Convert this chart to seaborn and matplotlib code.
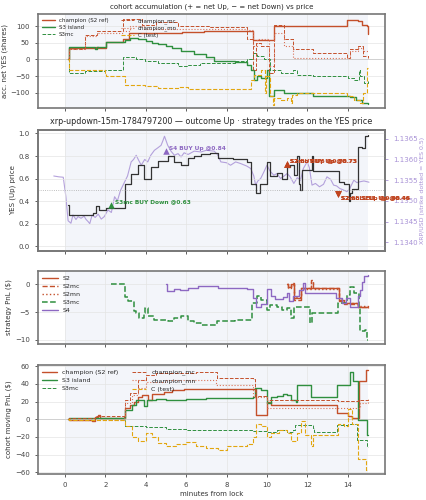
import matplotlib
matplotlib.use("Agg")
import matplotlib.pyplot as plt
import seaborn as sns

# ---- data ----
# panel 1: accumulated net YES shares, step series (t, value)
acc_champion = [(0.15, 0), (0.2, 35), (1.3, 33), (1.55, 38), (1.65, 34), (2.05, 53), (2.9, 60),
                (3.15, 78), (3.6, 80), (5.8, 82), (6.9, 86), (9.3, 59), (10.35, 101),
                (13.95, 119), (14.5, 115), (14.7, 104), (14.95, 100), (15.0, 75)]
acc_s3_island = [(0.15, 0), (0.2, 37), (1.5, 30), (1.6, 36), (2.05, 52), (3.0, 58), (3.2, 65),
                 (3.6, 60), (4.0, 55), (4.3, 50), (4.6, 45), (5.0, 40), (5.3, 35), (5.75, 25),
                 (6.4, 15), (7.0, 7), (7.4, -5), (8.4, -8), (9.0, -15), (9.2, -30), (9.35, -60),
                 (9.5, -50), (9.7, -55), (10.0, -30), (10.1, -110), (10.35, -90), (10.85, -100),
                 (12.3, -110), (14.1, -112), (14.4, -120), (14.7, -130), (15.0, -133)]
acc_s3mc = [(0.15, 0), (0.2, -40), (1.0, -35), (2.0, -30), (2.9, 8), (3.5, 2), (3.95, -5),
            (4.6, -10), (5.6, -20), (6.1, -15), (6.7, -10), (8.4, -5), (9.0, 0), (9.3, 20),
            (9.5, 10), (9.85, 0), (10.15, -30), (10.7, -40), (11.3, -30), (11.5, -45),
            (12.3, -50), (14.0, -55), (14.3, -60), (14.55, -30), (14.6, -50), (14.8, -70), (15.0, -65)]
acc_ctest = [(0.15, 0), (0.2, -30), (1.5, -32), (2.0, -40), (2.05, -50), (3.0, -75), (3.95, -80),
             (4.6, -85), (5.6, -82), (6.1, -88), (9.1, -88), (9.2, -60), (9.35, -45), (9.7, -30),
             (9.9, -100), (9.95, -50), (10.15, -110), (10.3, -135), (10.35, -115), (10.7, -120),
             (11.0, -115), (11.2, -130), (11.25, -105), (11.5, -100), (12.3, -100), (13.95, -110),
             (14.3, -120), (14.6, -130), (14.75, -100), (14.95, -25), (15.0, -25)]
acc_champ_mc = [(0.15, 0), (0.2, 30), (1.0, 72), (1.6, 84), (2.9, 120), (3.8, 104), (4.5, 112),
                (5.6, 100), (7.2, 98), (9.0, 60), (9.3, -30), (9.45, 50), (9.7, 40), (10.1, -40),
                (10.35, 104), (10.85, 60), (11.3, 30), (12.3, 20), (13.95, 5), (14.1, 30),
                (14.5, 40), (14.75, 10), (15.0, 5)]
acc_champ_mn = [(0.15, 0), (0.2, 30), (1.0, 70), (1.6, 80), (2.9, 85), (3.2, 100), (3.9, 92),
                (9.0, 88), (9.3, 40), (9.5, 60), (10.1, -20), (10.35, 80), (10.85, 40), (11.3, 5),
                (13.95, 5), (14.1, 25), (14.5, 35), (14.75, 25), (15.0, 25)]

# panel 2: YES (Up) price steps and XRP/USD spot
yes_price = [(0.16, 0.37), (0.2, 0.28), (1.4, 0.30), (1.56, 0.36), (1.7, 0.32), (2.05, 0.34),
             (2.96, 0.55), (3.28, 0.64), (3.6, 0.72), (3.94, 0.60), (4.25, 0.70), (4.6, 0.76),
             (5.1, 0.80), (5.4, 0.75), (5.75, 0.72), (6.1, 0.78), (6.4, 0.80), (6.73, 0.82),
             (7.2, 0.83), (7.6, 0.78), (8.3, 0.77), (9.0, 0.75), (9.23, 0.55), (9.45, 0.47),
             (9.65, 0.55), (10.0, 0.75), (10.15, 0.62), (10.5, 0.65), (10.75, 0.60), (11.0, 0.70),
             (11.15, 0.72), (11.33, 0.63), (11.5, 0.80), (11.58, 0.55), (11.66, 0.50),
             (11.75, 0.68), (12.23, 0.80), (12.3, 0.67), (13.55, 0.57), (13.8, 0.55),
             (14.04, 0.40), (14.12, 0.47), (14.2, 0.51), (14.5, 0.88), (14.7, 0.87),
             (14.87, 0.98), (15.0, 0.99)]
xrp_usd = [(-0.55, 1.13560), (-0.3, 1.13558), (-0.08, 1.13557), (0.05, 1.13510), (0.16, 1.13452),
           (0.3, 1.13446), (0.4, 1.13466), (0.55, 1.13455), (0.65, 1.13462), (0.8, 1.13458),
           (0.95, 1.13463), (1.05, 1.13455), (1.15, 1.13450), (1.23, 1.13445), (1.35, 1.13466),
           (1.5, 1.13460), (1.65, 1.13468), (1.8, 1.13456), (1.95, 1.13462), (2.13, 1.13478),
           (2.3, 1.13472), (2.46, 1.13510), (2.6, 1.13500), (2.75, 1.13525), (2.96, 1.13546),
           (3.1, 1.13560), (3.28, 1.13594), (3.4, 1.13600), (3.53, 1.13610), (3.65, 1.13598),
           (3.78, 1.13586), (3.95, 1.13600), (4.1, 1.13594), (4.25, 1.13610), (4.43, 1.13622),
           (4.6, 1.13628), (4.76, 1.13634), (4.85, 1.13645), (4.93, 1.13656), (5.09, 1.13634),
           (5.25, 1.13620), (5.42, 1.13610), (5.6, 1.13614), (5.75, 1.13606), (5.9, 1.13616),
           (6.1, 1.13612), (6.4, 1.13620), (6.73, 1.13618), (7.0, 1.13622), (7.39, 1.13620),
           (7.55, 1.13612), (7.72, 1.13594), (8.0, 1.13592), (8.2, 1.13586), (8.45, 1.13594),
           (8.7, 1.13590), (9.0, 1.13584), (9.2, 1.13578), (9.35, 1.13560), (9.44, 1.13538),
           (9.55, 1.13548), (9.69, 1.13554), (9.85, 1.13570), (10.0, 1.13586), (10.15, 1.13572),
           (10.34, 1.13562), (10.5, 1.13566), (10.67, 1.13554), (10.85, 1.13560), (11.0, 1.13566),
           (11.15, 1.13558), (11.33, 1.13542), (11.5, 1.13556), (11.66, 1.13550), (11.8, 1.13578),
           (11.99, 1.13594), (12.1, 1.13580), (12.23, 1.13538), (12.4, 1.13542), (12.6, 1.13534),
           (12.8, 1.13540), (12.97, 1.13558), (13.15, 1.13552), (13.3, 1.13538), (13.45, 1.13536),
           (13.6, 1.13530), (13.8, 1.13526), (13.96, 1.13522), (14.1, 1.13530), (14.3, 1.13550),
           (14.45, 1.13544), (14.6, 1.13546), (14.8, 1.13548), (15.05, 1.13545)]

# trades marked on the YES price
trade_t = [2.3, 5.0, 10.97, 10.97, 10.97, 13.5, 13.5, 13.5]
trade_p = [0.37, 0.84, 0.73, 0.73, 0.73, 0.46, 0.46, 0.46]
trade_text = ["S3mc BUY Down @0.63", "S4 BUY Up @0.84", "S2 BUY Up @0.73", "S2mc BUY Up @0.73",
              "S2mn BUY Up @0.73", "S2 SELL Up @0.46", "S2mc SELL Up @0.46", "S2mn SELL Up @0.46"]
trade_side = ["buy", "buy", "buy", "buy", "buy", "sell", "sell", "sell"]
trade_who = ["S3mc", "S4", "S2", "S2", "S2", "S2", "S2", "S2"]

# panel 3: strategy PnL ($)
pnl_s2 = [(10.97, 0), (11.05, -0.5), (11.2, 0), (11.33, -2.5), (11.7, -0.6), (13.5, -0.6),
          (13.55, -2.8), (13.8, -3.4), (14.5, -4.0), (15.0, -4.1)]
pnl_s2mc = [(10.97, 0), (11.05, -0.6), (11.2, 0.2), (11.33, -2.8), (11.7, -0.7), (12.2, 0.8),
            (12.28, -0.7), (13.5, -0.7), (13.55, -3.0), (13.8, -3.6), (14.5, -4.1), (15.0, -4.2)]
pnl_s2mn = [(10.97, 0), (11.05, -0.4), (11.2, -0.1), (11.33, -2.3), (11.7, -0.8), (12.2, 0.5),
            (12.28, -0.8), (13.5, -0.8), (13.55, -2.6), (13.8, -3.3), (14.5, -3.9), (15.0, -4.0)]
pnl_s3mc = [(2.3, 0), (3.0, -2.2), (3.1, -3.0), (3.4, -4.9), (3.5, -5.2), (3.65, -6.1), (3.9, -5.2),
            (3.97, -4.3), (4.1, -5.8), (4.4, -6.4), (5.1, -6.7), (5.4, -6.1), (5.75, -5.8),
            (6.1, -6.7), (6.4, -7.0), (6.73, -7.3), (7.55, -6.7), (8.4, -6.5), (9.0, -6.4),
            (9.28, -3.4), (9.5, -2.0), (9.7, -2.8), (10.0, -4.6), (10.15, -3.7), (10.5, -4.0),
            (10.75, -4.6), (11.0, -4.3), (11.17, -6.1), (11.33, -4.0), (12.15, -7.0), (12.23, -5.2),
            (13.5, -3.4), (13.96, -1.9), (14.1, -0.4), (14.3, -1.5), (14.55, -4.5), (14.6, -8.5),
            (14.85, -8.3), (14.95, -10.0), (15.0, -10.0)]
pnl_s4 = [(5.0, 0), (5.05, -1.2), (5.4, -0.8), (5.7, -1.0), (6.1, -0.6), (6.6, -0.3), (7.6, -0.6),
          (8.5, -0.7), (9.0, -0.9), (9.3, -2.5), (9.45, -4.0), (9.7, -3.5), (10.0, -0.8),
          (10.2, -2.0), (10.4, -2.6), (10.8, -2.2), (11.0, -1.5), (11.1, -3.0), (11.3, -2.0),
          (11.6, -1.0), (11.8, 0.3), (11.9, -1.5), (13.4, -2.5), (13.7, -3.3), (13.9, -2.5),
          (14.1, -4.0), (14.5, -2.0), (14.6, -1.0), (14.7, 0.5), (14.8, 1.5), (15.0, 1.8)]

# panel 4: cohort moving PnL ($)
mov_champion = [(0.15, 0), (0.2, -1), (1.35, -2), (1.5, 3), (1.64, 5), (1.75, 2), (2.95, 2),
                (3.0, 13), (3.2, 16), (3.4, 20), (3.6, 25), (3.8, 27), (4.1, 22), (4.3, 29),
                (4.9, 31), (5.3, 33), (5.9, 34), (9.4, 34), (9.45, 5), (10.0, 20), (10.2, 16),
                (11.4, 16), (13.47, 7), (14.0, 4), (14.2, 1), (14.55, 43), (14.9, 56), (15.0, 56)]
mov_s3_island = [(0.15, 0), (0.2, 1), (2.95, 1), (3.0, 10), (3.3, 16), (3.5, 22), (3.94, 15),
                 (4.05, 22), (4.5, 23), (5.0, 22), (6.0, 23), (7.0, 24), (8.0, 24), (9.3, 25),
                 (9.4, 35), (9.7, 33), (10.0, 18), (10.2, 25), (10.5, 26), (10.8, 29), (11.0, 27),
                 (11.2, 22), (11.45, 20), (11.5, 39), (12.2, 25), (13.45, 39), (14.1, 54),
                 (14.27, 43), (14.5, -1), (14.95, -18), (15.0, -18)]
mov_s3mc = [(0.15, 0), (0.2, 2), (2.95, 3), (3.0, -8), (4.0, -9), (5.0, -11), (6.0, -12),
            (8.0, -12), (9.3, -13), (10.0, -14), (10.5, -12), (11.0, -14), (11.3, -12),
            (11.4, -7), (12.3, -10), (12.35, -14), (13.45, -6.5), (14.0, -5), (14.45, -23),
            (14.95, -31), (15.0, -31)]
mov_ctest = [(0.15, 0), (0.2, -1), (2.95, -1), (3.0, -8), (3.3, -20), (3.6, -25), (4.0, -15),
             (4.3, -20), (4.6, -27), (5.0, -30), (5.5, -28), (6.0, -26), (6.5, -30), (7.0, -33),
             (7.6, -35), (8.0, -30), (9.0, -28), (9.3, -20), (9.45, -5), (9.7, -8), (10.0, -20),
             (10.2, -15), (10.6, -12), (11.0, -15), (11.2, -25), (11.5, -15), (11.7, -2),
             (11.9, -18), (12.2, -30), (12.3, -18), (13.5, -5), (13.8, -8), (14.0, 12),
             (14.2, -5), (14.5, -45), (14.9, -57), (15.0, -57)]
mov_champ_mc = [(0.15, 0), (0.2, 1), (1.35, 2), (1.5, 4), (2.95, 3), (3.0, 22), (3.2, 30),
                (3.6, 45), (4.0, 50), (4.5, 52), (5.6, 53), (6.5, 54), (7.55, 46.5), (9.3, 46),
                (9.4, 26), (10.0, 22), (11.0, 22), (13.5, 21), (14.5, 22), (15.0, 23)]
mov_champ_mn = [(0.15, 0), (0.2, -1), (2.95, 1), (3.0, 18), (3.3, 28), (3.6, 35), (4.0, 42),
                (5.0, 44), (7.5, 39), (9.3, 25), (10.0, 13), (12.5, 12.5), (14.6, 18), (15.0, 20)]

RED = "#c4502b"
GREEN = "#2f8f3f"
GOLD = "#e2a60f"
PURPLE = "#8d68c2"
XRP_COL = "#a892d6"
SPAN = "#f3f5fa"

sns.set_theme(style="whitegrid")
plt.rcParams.update({
    "font.family": ["DejaVu Sans"],
    "axes.edgecolor": "#777777",
    "axes.linewidth": 1.2,
    "grid.color": "#e4e4e4",
    "grid.linewidth": 0.5,
    "xtick.bottom": True,
    "ytick.left": True,
    "xtick.major.size": 2.5,
    "ytick.major.size": 2.5,
    "xtick.major.width": 0.6,
    "ytick.major.width": 0.6,
    "xtick.color": "#444444",
    "ytick.color": "#444444",
    "xtick.labelsize": 5,
    "ytick.labelsize": 5,
    "axes.labelsize": 5,
    "axes.labelpad": 2,
    "axes.labelcolor": "#333333",
})


def step(ax, pts, **kw):
    t, v = zip(*pts)
    sns.lineplot(x=list(t), y=list(v), ax=ax, drawstyle="steps-post",
                 estimator=None, sort=False, **kw)


fig = plt.figure(figsize=(4.27, 5.0), dpi=100)
L, W = 0.089, 0.813
ax1 = fig.add_axes([L, 0.784, W, 0.188])
ax2 = fig.add_axes([L, 0.498, W, 0.242], sharex=ax1)
ax3 = fig.add_axes([L, 0.312, W, 0.146], sharex=ax1)
ax4 = fig.add_axes([L, 0.052, W, 0.218], sharex=ax1)


# cohort series drawn the same way in panels 1 and 4
def cohort(ax, champ, s3, s3mc, ctest, cmc, cmn):
    step(ax, champ, color=RED, lw=1.0, label="champion (S2 ref)")
    step(ax, s3, color=GREEN, lw=1.0, label="S3 island")
    step(ax, s3mc, color=GREEN, lw=0.7, ls="--", label="S3mc")
    step(ax, cmc, color=RED, lw=0.7, ls="--", label="champion_mc")
    step(ax, cmn, color="#d9745a", lw=0.8, ls=":", label="champion_mn")
    step(ax, ctest, color=GOLD, lw=0.8, ls="--", label="C (test)")


for ax in (ax1, ax3, ax4):
    ax.axvspan(0, 15, color=SPAN, zorder=0, lw=0)

cohort(ax1, acc_champion, acc_s3_island, acc_s3mc, acc_ctest, acc_champ_mc, acc_champ_mn)
ax1.axhline(0, color="#cccccc", lw=0.6, zorder=1)
ax1.set_ylim(-145, 136)
ax1.set_yticks([-100, -50, 0, 50, 100])
ax1.set_ylabel("acc. net YES (shares)")
ax1.set_title("cohort accumulation (+ = net Up, \u2212 = net Down) vs price", fontsize=5, pad=4)
ax1.legend(ncol=2, loc="upper left", fontsize=4, frameon=False, handlelength=2.3,
           columnspacing=2.2, labelspacing=0.35, borderaxespad=0.3)

# panel 2: price with XRP on a twin axis underneath
ax2r = ax2.twinx()
ax2r.axvspan(0, 15, color=SPAN, zorder=0, lw=0)
xt, xv = zip(*xrp_usd)
sns.lineplot(x=list(xt), y=list(xv), ax=ax2r, color=XRP_COL, lw=0.8, alpha=0.85,
             estimator=None, sort=False)
ax2r.set_ylim(1.13379, 1.13671)
ax2r.set_yticks([1.1340, 1.1345, 1.1350, 1.1355, 1.1360, 1.1365])
ax2r.yaxis.set_major_formatter(matplotlib.ticker.FormatStrFormatter("%.4f"))
ax2r.tick_params(axis="y", colors=XRP_COL, labelsize=5, right=True)
ax2r.set_ylabel("XRP/USD (strike dotted = YES 0.5)", color=XRP_COL, fontsize=4.5, labelpad=1)
ax2r.grid(False)
ax2.set_zorder(ax2r.get_zorder() + 1)
ax2.patch.set_visible(False)

step(ax2, yes_price, color="#333333", lw=0.9)
ax2.axhline(0.5, color="#aaaaaa", lw=0.6, ls=":")
ax2.set_ylim(-0.04, 1.03)
ax2.set_yticks([0.0, 0.2, 0.4, 0.6, 0.8, 1.0])
ax2.set_ylabel("YES (Up) price")
ax2.set_title("xrp-updown-15m-1784797200 \u2014 outcome Up \u00b7 strategy trades on the YES price",
              fontsize=5.8, pad=4)
who_col = {"S2": "#c0441f", "S3mc": GREEN, "S4": PURPLE}
for t, p, txt, side, who in zip(trade_t, trade_p, trade_text, trade_side, trade_who):
    c = who_col[who]
    ax2.scatter([t], [p], marker="^" if side == "buy" else "v", s=22, color=c, zorder=5, lw=0)
    dy = 2 if side == "buy" else -3
    ax2.annotate(txt, (t, p), xytext=(2.5, dy), textcoords="offset points", fontsize=4.2,
                 color=c, fontweight="bold", va="center", ha="left", annotation_clip=False,
                 zorder=6)

# panel 3: strategy PnL
step(ax3, pnl_s2, color=RED, lw=1.0, label="S2")
step(ax3, pnl_s2mc, color=RED, lw=1.0, ls="--", label="S2mc")
step(ax3, pnl_s2mn, color=RED, lw=1.0, ls=":", label="S2mn")
step(ax3, pnl_s3mc, color=GREEN, lw=1.1, ls="--", label="S3mc")
step(ax3, pnl_s4, color=PURPLE, lw=1.0, label="S4")
ax3.set_ylim(-10.8, 2.45)
ax3.set_yticks([-10, -5, 0])
ax3.set_ylabel("strategy PnL ($)")
ax3.legend(loc="upper left", fontsize=4.5, frameon=False, handlelength=2.5,
           labelspacing=0.45, borderaxespad=0.3)

# panel 4: cohort moving PnL
cohort(ax4, mov_champion, mov_s3_island, mov_s3mc, mov_ctest, mov_champ_mc, mov_champ_mn)
ax4.axhline(0, color="#cccccc", lw=0.6, zorder=1)
ax4.set_ylim(-62, 61.5)
ax4.set_yticks([-60, -40, -20, 0, 20, 40, 60])
ax4.set_ylabel("cohort moving PnL ($)")
ax4.set_xlabel("minutes from lock")
ax4.legend(ncol=2, loc="upper left", fontsize=4.5, frameon=False, handlelength=2.3,
           columnspacing=2.2, labelspacing=0.45, borderaxespad=0.3)

ax1.set_xlim(-1.33, 15.85)
ax4.set_xticks([0, 2, 4, 6, 8, 10, 12, 14])
for ax in (ax1, ax2, ax3):
    ax.tick_params(axis="x", labelbottom=False)
for ax in (ax1, ax2, ax3, ax4):
    for s in ax.spines.values():
        s.set_color("#777777")
        s.set_linewidth(1.2)

fig.savefig("out.png", dpi=100)
